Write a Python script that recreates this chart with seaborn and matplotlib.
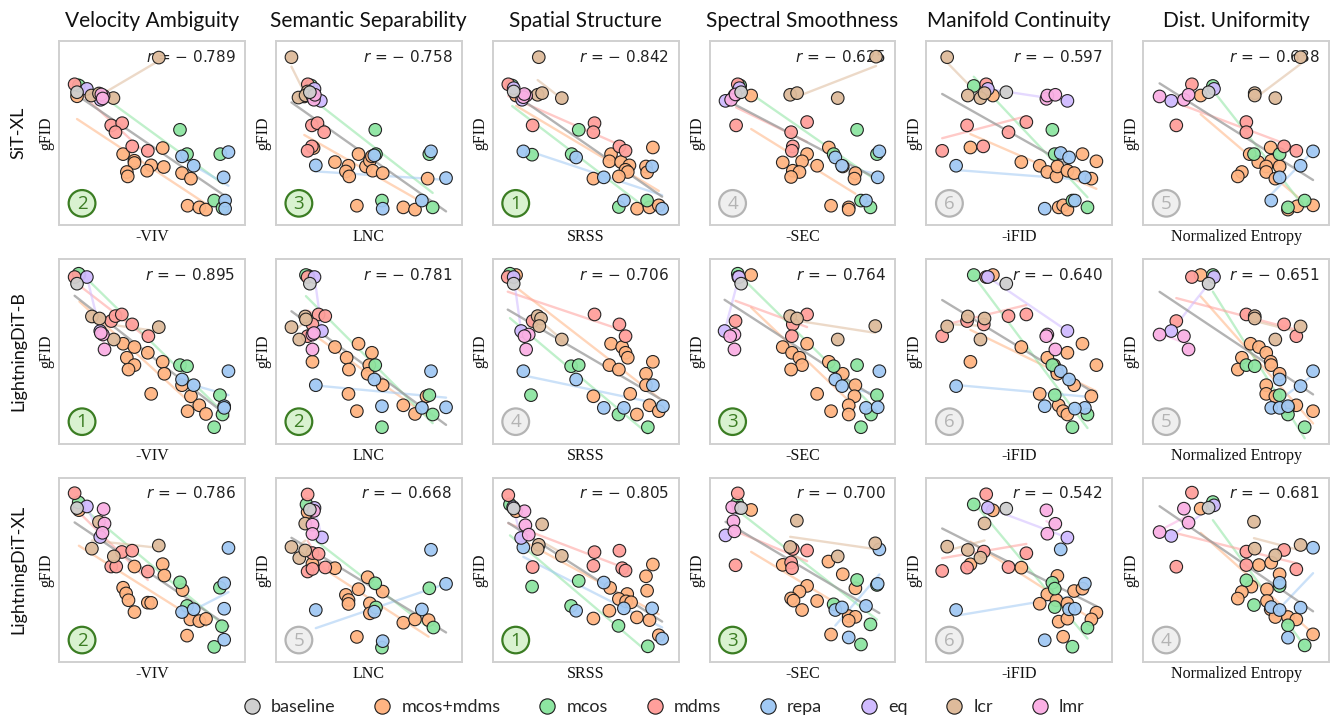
import numpy as np
import pandas as pd
import matplotlib
matplotlib.use("Agg")
import matplotlib.pyplot as plt
from matplotlib.lines import Line2D
from matplotlib.patches import Circle
import seaborn as sns

# ---------------------------------------------------------------- labels
models = ["SiT-XL", "LightningDiT-B", "LightningDiT-XL"]
metric_titles = ["Velocity Ambiguity", "Semantic Separability", "Spatial Structure",
                 "Spectral Smoothness", "Manifold Continuity", "Dist. Uniformity"]
metric_labels = ["-VIV", "LNC", "SRSS", "-SEC", "-iFID", "Normalized Entropy"]
groups = ["baseline", "mcos+mdms", "mcos", "mdms", "repa", "eq", "lcr", "lmr"]

r_values = [[-0.789, -0.758, -0.842, -0.625, -0.597, -0.638],
            [-0.895, -0.781, -0.706, -0.764, -0.640, -0.651],
            [-0.786, -0.668, -0.805, -0.700, -0.542, -0.681]]
ranks = [[2, 3, 1, 4, 6, 5],
         [1, 2, 4, 3, 6, 5],
         [2, 5, 1, 3, 6, 4]]

# ------------------------------------------- (metric score, gFID) per run
# SiT-XL
sit_viv = {
    "baseline": [(9.7, 72.2)],
    "mcos+mdms": [(9.7, 70.0), (34.5, 38.6), (55.8, 41.9), (40.6, 35.0), (40.6, 33.8), (49.6, 32.5),
                  (47.4, 29.6), (56.4, 31.6), (36.5, 28.9), (37.0, 26.5), (66.2, 28.3), (71.0, 25.3),
                  (69.2, 10.6), (75.5, 9.7), (79.1, 8.5)],
    "mcos": [(10.7, 75.8), (65.1, 51.8), (68.9, 38.6), (86.8, 38.6), (83.5, 13.4), (88.0, 9.4)],
    "mdms": [(8.4, 76.5), (28.1, 54.2), (34.0, 55.4), (30.4, 50.5), (39.4, 42.8), (47.8, 40.4)],
    "repa": [(66.2, 37.4), (72.5, 32.3), (91.2, 39.7), (88.6, 26.0), (89.4, 13.4), (89.4, 9.0)],
    "eq": [(15.0, 74.0), (22.4, 68.1)],
    "lcr": [(17.4, 70.4), (21.5, 71.5), (29.3, 69.0), (53.7, 91.0)],
    "lmr": [(24.0, 70.2), (22.8, 71.0), (23.5, 68.8)],
}
sit_lnc = {
    "baseline": [(18.3, 72.2)],
    "mcos+mdms": [(15.3, 69.9), (20.3, 41.9), (31.8, 34.3), (39.1, 32.3), (37.7, 29.2), (39.5, 26.5),
                  (44.5, 38.6), (48.5, 31.9), (50.6, 35.0), (52.1, 29.6), (57.5, 28.3), (51.7, 37.4),
                  (43.6, 10.6), (68.6, 9.7), (74.9, 8.5), (81.7, 25.3)],
    "mcos": [(19.0, 75.8), (53.5, 51.8), (53.9, 38.6), (82.6, 38.6), (57.1, 13.4), (84.4, 9.7)],
    "mdms": [(17.2, 76.5), (19.4, 54.2), (22.4, 55.4), (26.0, 50.5), (19.4, 42.8), (17.1, 40.4)],
    "repa": [(21.5, 32.5), (53.0, 37.9), (83.5, 40.1), (91.6, 25.6), (78.6, 13.4), (57.5, 9.0)],
    "eq": [(20.8, 74.0), (24.2, 67.5)],
    "lcr": [(8.4, 91.2), (12.2, 69.3), (17.1, 72.6), (16.0, 70.5)],
    "lmr": [(19.7, 69.9), (20.5, 68.1), (21.0, 70.8)],
}
sit_srss = {
    "baseline": [(11.3, 72.6)],
    "mcos+mdms": [(12.6, 70.4), (54.2, 25.3), (63.7, 38.6), (62.8, 34.7), (69.1, 34.3), (73.6, 32.5),
                  (71.5, 30.1), (72.7, 28.9), (67.9, 26.5), (82.5, 31.9), (83.1, 28.7), (86.2, 42.2),
                  (77.7, 9.0), (84.4, 9.7), (89.4, 10.8)],
    "mcos": [(10.5, 75.8), (46.3, 51.8), (42.5, 38.6), (21.2, 38.3), (67.9, 9.9), (83.1, 13.4)],
    "mdms": [(8.4, 76.5), (21.5, 54.2), (54.8, 55.4), (54.2, 50.5), (68.2, 42.8), (71.5, 40.4)],
    "repa": [(16.5, 40.1), (44.9, 36.8), (59.8, 26.0), (85.8, 31.9), (70.6, 13.4), (91.2, 9.0)],
    "eq": [(11.3, 74.4), (15.8, 68.1)],
    "lcr": [(24.8, 91.2), (24.2, 70.8), (26.6, 71.7), (37.2, 69.0)],
    "lmr": [(18.0, 70.4), (16.5, 69.5), (17.0, 71.2)],
}
sit_sec = {
    "baseline": [(17.0, 72.2)],
    "mcos+mdms": [(22.4, 70.4), (52.5, 38.6), (39.4, 34.1), (49.8, 34.7), (44.8, 29.6), (48.4, 28.9),
                  (43.9, 26.2), (57.9, 32.3), (64.2, 42.2), (71.7, 31.9), (78.5, 28.3), (78.0, 25.3),
                  (65.4, 10.6), (74.9, 9.7), (74.9, 8.5)],
    "mcos": [(16.5, 75.8), (79.4, 51.8), (66.8, 38.6), (90.1, 38.6), (81.5, 13.4), (86.6, 9.7)],
    "mdms": [(15.2, 76.5), (14.3, 54.2), (52.5, 56.0), (43.9, 50.5), (44.8, 42.8), (44.3, 40.4)],
    "repa": [(67.7, 36.8), (71.3, 32.3), (91.4, 40.1), (90.5, 26.0), (84.2, 13.4)],
    "eq": [(16.1, 74.4), (8.6, 67.5)],
    "lcr": [(89.6, 91.5), (43.4, 70.8), (47.1, 71.7), (69.0, 69.0)],
    "lmr": [(13.4, 70.4), (11.6, 68.1), (14.0, 71.0)],
}
sit_ifid = {
    "baseline": [(43.0, 72.2)],
    "mcos+mdms": [(35.8, 70.4), (23.7, 42.2), (51.1, 34.3), (61.0, 32.3), (65.1, 28.9), (70.0, 26.5),
                  (70.5, 31.9), (75.9, 29.6), (79.5, 28.3), (84.0, 38.6), (91.5, 34.7), (88.8, 25.3),
                  (71.2, 9.7), (73.6, 10.8), (75.9, 8.5)],
    "mcos": [(25.5, 75.6), (67.8, 51.8), (69.1, 38.6), (86.7, 9.7), (78.6, 13.4)],
    "mdms": [(32.2, 76.5), (21.9, 54.2), (53.8, 56.0), (44.2, 50.5), (8.5, 40.4), (30.6, 42.8)],
    "repa": [(16.0, 32.3), (72.3, 39.2), (76.8, 36.8), (85.3, 26.0), (79.9, 13.4), (63.7, 9.0)],
    "eq": [(33.1, 74.0), (75.9, 67.5)],
    "lcr": [(11.2, 91.2), (22.3, 70.4), (29.1, 69.0), (31.3, 71.7)],
    "lmr": [(64.6, 68.6), (65.1, 70.4), (69.4, 70.8)],
}
sit_ent = {
    "baseline": [(35.2, 72.2)],
    "mcos+mdms": [(30.9, 70.4), (68.6, 42.2), (57.3, 38.6), (61.9, 34.3), (68.9, 35.0), (66.2, 31.9),
                  (73.4, 31.9), (66.2, 28.9), (53.1, 28.9), (50.9, 26.5), (71.1, 25.3), (77.9, 8.5),
                  (82.9, 10.3), (91.4, 10.8)],
    "mcos": [(37.5, 75.6), (59.6, 38.6), (73.4, 38.6), (86.9, 13.4), (77.9, 9.7)],
    "mdms": [(26.2, 76.5), (17.8, 54.2), (55.5, 56.0), (55.5, 50.5), (75.8, 42.8), (82.4, 40.4)],
    "repa": [(73.4, 26.0), (91.4, 40.1), (84.7, 32.3), (68.9, 13.4)],
    "eq": [(38.1, 74.0), (15.1, 67.5)],
    "lcr": [(84.7, 91.2), (60.0, 71.7), (60.0, 70.4), (71.1, 69.0)],
    "lmr": [(8.8, 69.9), (21.9, 68.1), (24.4, 70.8)],
}

# LightningDiT-B
ldb_viv = {
    "baseline": [(9.7, 86.8)],
    "mcos+mdms": [(11.0, 91.5), (34.5, 54.2), (40.6, 52.4), (47.8, 49.3), (36.5, 46.6), (40.6, 42.6),
                  (37.4, 40.2), (55.8, 44.4), (56.7, 37.9), (49.6, 27.0), (66.2, 31.7), (71.0, 25.7),
                  (75.5, 20.8), (79.1, 16.1), (69.2, 17.6)],
    "mcos": [(10.6, 92.2), (65.1, 42.6), (68.9, 42.0), (86.6, 26.3), (88.0, 15.8), (83.5, 8.9)],
    "mdms": [(8.4, 90.4), (28.1, 66.5), (30.4, 69.2), (33.8, 70.1), (39.4, 64.7), (48.1, 58.3)],
    "repa": [(66.2, 34.8), (72.5, 31.7), (91.2, 39.3), (88.9, 20.3), (88.9, 19.4)],
    "eq": [(15.0, 90.4), (22.2, 61.1)],
    "lcr": [(17.7, 69.0), (21.8, 67.9), (53.7, 63.2), (29.5, 56.5)],
    "lmr": [(23.6, 59.2), (24.5, 51.1), (22.5, 60.0)],
}
ldb_lnc = {
    "baseline": [(18.3, 86.8)],
    "mcos+mdms": [(17.5, 91.0), (19.7, 44.4), (31.8, 52.4), (44.5, 54.2), (38.1, 46.6), (39.3, 40.2),
                  (51.7, 49.3), (50.3, 42.6), (49.4, 37.9), (57.5, 31.7), (39.1, 27.0), (43.6, 17.6),
                  (68.6, 20.8), (74.9, 16.1), (81.1, 25.7)],
    "mcos": [(16.2, 91.5), (53.5, 42.6), (82.6, 26.3), (84.4, 15.8), (57.1, 8.9)],
    "mdms": [(17.1, 90.4), (23.0, 70.1), (26.6, 69.2), (19.7, 64.7), (17.1, 58.3)],
    "repa": [(53.0, 34.8), (21.5, 31.7), (83.5, 39.3), (57.1, 20.3), (78.6, 19.4), (91.6, 19.7)],
    "eq": [(20.8, 90.4), (24.8, 61.1)],
    "lcr": [(15.8, 69.0), (16.2, 67.4), (8.4, 63.2), (12.6, 56.5)],
    "lmr": [(19.7, 59.2), (19.7, 51.1), (20.5, 60.0)],
}
ldb_srss = {
    "baseline": [(11.3, 86.8)],
    "mcos+mdms": [(12.6, 91.5), (63.7, 54.2), (69.7, 52.4), (71.5, 49.3), (72.7, 46.6), (62.8, 42.6),
                  (67.9, 40.2), (86.2, 44.4), (82.5, 37.9), (82.5, 31.7), (74.0, 27.0), (54.2, 25.7),
                  (84.4, 20.8), (89.4, 17.6), (77.6, 15.8)],
    "mcos": [(9.3, 92.2), (42.2, 42.0), (46.3, 42.6), (20.6, 26.3), (67.7, 15.8), (83.5, 8.9)],
    "mdms": [(8.1, 90.4), (21.5, 66.5), (54.8, 70.1), (68.2, 64.7), (71.5, 58.3)],
    "repa": [(16.5, 39.3), (44.9, 34.8), (86.2, 31.7), (59.8, 19.4), (70.6, 19.4), (91.6, 20.3)],
    "eq": [(11.3, 90.4), (15.3, 61.1)],
    "lcr": [(24.2, 69.2), (26.0, 67.9), (25.1, 63.8), (37.2, 56.5)],
    "lmr": [(19.4, 59.2), (17.1, 58.3), (18.0, 51.1)],
}
ldb_sec = {
    "baseline": [(17.0, 86.8)],
    "mcos+mdms": [(22.4, 91.5), (52.5, 54.2), (39.4, 52.4), (44.4, 49.3), (48.4, 46.6), (49.8, 42.6),
                  (43.9, 40.2), (64.2, 44.4), (71.7, 37.9), (78.5, 31.7), (57.9, 27.0), (78.0, 25.7),
                  (74.9, 20.8), (74.9, 15.8), (65.4, 17.6)],
    "mcos": [(15.2, 92.2), (66.8, 42.0), (79.4, 42.6), (90.1, 26.3), (86.9, 15.8), (81.5, 8.9)],
    "mdms": [(15.5, 90.4), (14.0, 66.5), (52.5, 70.1), (44.8, 64.7), (44.3, 58.3)],
    "repa": [(67.7, 34.8), (71.3, 31.2), (91.4, 39.3), (84.2, 19.4), (90.5, 19.7)],
    "eq": [(15.8, 90.4), (8.1, 61.1)],
    "lcr": [(43.4, 69.2), (47.1, 67.9), (89.2, 63.8), (69.0, 56.5)],
    "lmr": [(13.4, 59.2), (11.1, 58.3), (13.4, 51.1)],
}
ldb_ifid = {
    "baseline": [(43.0, 86.8)],
    "mcos+mdms": [(35.8, 91.5), (23.7, 44.4), (51.1, 52.4), (75.9, 49.3), (84.0, 54.2), (91.5, 42.6),
                  (65.1, 46.6), (68.7, 42.6), (70.0, 40.2), (70.5, 37.9), (79.5, 31.7), (61.0, 27.0),
                  (88.8, 25.7), (71.2, 20.8), (73.6, 17.6), (75.9, 15.8)],
    "mcos": [(25.5, 91.5), (67.8, 42.6), (69.1, 26.3), (86.7, 15.8), (78.6, 8.9)],
    "mdms": [(32.2, 90.4), (21.9, 66.5), (8.5, 58.3), (30.9, 64.7), (44.2, 69.2), (53.8, 70.1)],
    "repa": [(16.0, 31.2), (72.3, 39.3), (76.8, 34.8), (85.3, 19.4), (79.9, 19.0), (63.7, 20.3)],
    "eq": [(33.1, 90.4), (75.9, 61.1)],
    "lcr": [(22.3, 69.0), (11.2, 63.6), (31.3, 67.9), (29.1, 56.5)],
    "lmr": [(65.1, 59.2), (64.5, 58.3), (69.4, 51.1)],
}
ldb_ent = {
    "baseline": [(35.2, 86.8)],
    "mcos+mdms": [(30.9, 91.5), (57.8, 54.2), (62.3, 52.4), (66.2, 49.3), (68.6, 44.4), (68.9, 42.6),
                  (53.1, 46.6), (50.9, 40.2), (73.4, 37.9), (66.2, 31.7), (66.2, 27.0), (71.1, 25.7),
                  (82.4, 20.8), (91.4, 17.6), (77.9, 19.4)],
    "mcos": [(37.5, 91.5), (55.5, 42.6), (60.0, 42.0), (73.4, 26.3), (77.9, 15.8), (86.9, 8.9)],
    "mdms": [(26.2, 90.4), (17.8, 66.5), (55.5, 70.1), (75.8, 64.7), (82.4, 58.3)],
    "repa": [(91.4, 39.3), (84.7, 31.2), (73.4, 34.8), (68.9, 19.4), (73.4, 19.4), (77.9, 20.3)],
    "eq": [(38.1, 90.4), (15.1, 61.1)],
    "lcr": [(60.0, 69.2), (60.0, 67.9), (84.7, 63.6), (71.1, 56.5)],
    "lmr": [(8.8, 59.2), (21.9, 58.3), (24.4, 51.1)],
}

# LightningDiT-XL
ldxl_viv = {
    "baseline": [(9.7, 83.5)],
    "mcos+mdms": [(10.7, 82.4), (40.6, 51.8), (55.8, 53.1), (56.7, 46.9), (34.5, 40.3), (36.1, 37.2),
                  (37.4, 33.5), (40.6, 27.1), (47.8, 32.2), (49.6, 32.1), (66.5, 39.0), (70.7, 23.1),
                  (75.5, 22.2), (79.1, 23.4), (68.9, 14.3)],
    "mcos": [(10.6, 86.6), (65.1, 43.2), (68.9, 30.4), (86.6, 40.3), (87.7, 19.4), (83.5, 8.2)],
    "mdms": [(8.4, 91.6), (33.8, 59.7), (39.4, 60.4), (28.1, 51.8), (30.8, 51.8), (47.8, 49.1)],
    "repa": [(66.2, 27.1), (72.5, 28.6), (91.2, 61.9), (88.9, 42.7), (88.9, 28.9), (88.9, 12.1)],
    "eq": [(15.0, 84.4), (22.2, 67.8)],
    "lcr": [(21.5, 76.0), (17.7, 61.5), (29.5, 57.3), (53.7, 63.2)],
    "lmr": [(24.0, 83.0), (24.5, 75.1), (23.4, 70.1)],
}
ldxl_lnc = {
    "baseline": [(18.3, 82.7)],
    "mcos+mdms": [(17.1, 81.3), (19.7, 53.3), (31.8, 50.9), (44.5, 39.5), (49.4, 46.0), (57.5, 38.2),
                  (37.7, 36.4), (39.1, 33.6), (39.1, 31.5), (50.6, 31.8), (50.6, 26.4), (68.6, 21.3),
                  (74.9, 23.1), (82.2, 22.7), (43.6, 13.6)],
    "mcos": [(16.5, 85.5), (53.5, 42.7), (53.9, 29.6), (82.6, 40.0), (84.8, 18.7), (57.1, 7.8)],
    "mdms": [(17.1, 90.9), (19.7, 59.1), (23.0, 58.7), (26.6, 51.3), (17.1, 49.1), (19.7, 50.5)],
    "repa": [(53.0, 27.3), (21.5, 28.2), (83.5, 60.9), (91.6, 42.4), (78.6, 28.5), (57.5, 11.3)],
    "eq": [(20.8, 83.6), (24.8, 67.6)],
    "lcr": [(15.8, 75.1), (8.4, 62.4), (12.6, 56.4), (15.8, 60.5)],
    "lmr": [(19.7, 74.5), (19.7, 69.5), (20.5, 82.0)],
}
ldxl_srss = {
    "baseline": [(11.3, 83.3)],
    "mcos+mdms": [(12.6, 81.8), (86.2, 52.9), (82.5, 46.5), (83.1, 38.7), (63.2, 40.2), (72.4, 36.9),
                  (67.9, 34.2), (71.8, 32.9), (74.5, 32.4), (62.8, 27.8), (54.2, 23.6), (77.6, 24.2),
                  (84.4, 22.7), (89.4, 14.5)],
    "mcos": [(9.3, 85.5), (21.2, 40.9), (46.3, 44.0), (42.2, 30.4), (67.7, 19.6), (83.5, 8.5)],
    "mdms": [(8.4, 90.5), (21.5, 51.5), (54.8, 59.6), (54.2, 52.2), (68.2, 60.4), (69.7, 50.9), (71.5, 49.6)],
    "repa": [(16.5, 62.2), (44.9, 27.8), (59.8, 43.1), (70.6, 29.1), (85.8, 29.1), (91.2, 12.7)],
    "eq": [(11.0, 84.0), (15.3, 67.3)],
    "lcr": [(26.6, 74.7), (24.8, 63.6), (24.2, 61.3), (37.2, 57.6)],
    "lmr": [(17.1, 81.8), (17.6, 74.2), (19.4, 69.1)],
}
ldxl_sec = {
    "baseline": [(17.0, 83.5)],
    "mcos+mdms": [(22.4, 82.5), (39.4, 52.7), (64.0, 54.5), (71.7, 47.6), (52.5, 41.3), (48.4, 38.2),
                  (43.9, 34.5), (45.2, 33.3), (49.8, 28.2), (57.9, 33.1), (78.5, 40.0), (74.9, 24.9),
                  (78.5, 24.5), (74.9, 22.4), (65.4, 14.9)],
    "mcos": [(14.9, 86.2), (66.8, 31.3), (79.4, 44.5), (90.1, 41.8), (86.6, 20.4), (81.5, 9.5)],
    "mdms": [(15.2, 91.5), (44.8, 61.3), (52.5, 60.5), (43.9, 54.0), (44.4, 50.9), (14.0, 52.5)],
    "repa": [(67.7, 28.2), (71.3, 29.6), (91.4, 61.1), (90.5, 42.4), (84.2, 30.4), (74.9, 13.3)],
    "eq": [(15.8, 83.8), (8.6, 68.7)],
    "lcr": [(47.0, 76.7), (43.4, 62.4), (69.0, 57.3), (89.2, 64.4)],
    "lmr": [(12.2, 84.0), (12.9, 76.4), (13.4, 70.9)],
}
ldxl_ifid = {
    "baseline": [(43.0, 83.2)],
    "mcos+mdms": [(35.8, 82.3), (23.7, 53.0), (51.1, 51.2), (70.5, 46.7), (65.1, 36.7), (70.0, 33.5),
                  (61.0, 31.6), (75.9, 31.8), (79.5, 38.5), (84.0, 39.8), (91.5, 26.8), (88.8, 23.1),
                  (71.2, 21.9), (75.9, 23.5), (73.6, 13.7)],
    "mcos": [(25.5, 85.5), (67.8, 43.0), (69.1, 39.8), (69.1, 29.8), (86.7, 18.6), (78.6, 8.3)],
    "mdms": [(32.2, 91.0), (30.9, 59.9), (21.9, 51.2), (8.5, 49.4), (44.2, 51.5), (53.8, 59.0)],
    "repa": [(16.0, 28.2), (72.3, 61.1), (85.3, 42.5), (76.8, 28.6), (79.9, 28.9), (63.7, 11.8)],
    "eq": [(33.1, 83.7), (75.9, 67.5)],
    "lcr": [(31.3, 75.2), (11.2, 62.6), (22.3, 60.8), (29.1, 56.6)],
    "lmr": [(64.6, 82.3), (69.4, 75.0), (65.1, 69.6)],
}
ldxl_ent = {
    "baseline": [(35.2, 83.7)],
    "mcos+mdms": [(30.9, 83.2), (62.3, 52.6), (68.9, 53.9), (73.4, 47.6), (58.2, 40.9), (53.1, 38.0),
                  (50.9, 34.4), (66.6, 39.4), (66.6, 33.1), (68.6, 28.6), (71.1, 24.4), (77.9, 24.4),
                  (82.4, 23.1), (91.4, 15.0)],
    "mcos": [(37.5, 86.8), (55.5, 44.3), (73.4, 41.2), (59.6, 30.9), (77.9, 19.9), (86.9, 9.0)],
    "mdms": [(26.2, 91.9), (17.8, 51.7), (55.5, 59.9), (55.5, 52.6), (75.8, 60.8), (82.4, 50.3)],
    "repa": [(91.4, 62.0), (73.4, 43.0), (84.7, 29.5), (68.9, 29.8), (73.4, 28.2), (77.9, 13.2)],
    "eq": [(38.1, 85.0), (15.1, 68.4)],
    "lcr": [(59.6, 76.1), (60.0, 61.5), (71.1, 57.9), (84.7, 63.5)],
    "lmr": [(21.9, 83.2), (24.4, 75.6), (8.8, 70.5)],
}

panels = [[sit_viv, sit_lnc, sit_srss, sit_sec, sit_ifid, sit_ent],
          [ldb_viv, ldb_lnc, ldb_srss, ldb_sec, ldb_ifid, ldb_ent],
          [ldxl_viv, ldxl_lnc, ldxl_srss, ldxl_sec, ldxl_ifid, ldxl_ent]]

# ---------------------------------------------------------------- style
sns.set_theme(style="white")
pastel = sns.color_palette("pastel")
palette = {"baseline": pastel[7], "mcos+mdms": pastel[1], "mcos": pastel[2], "mdms": pastel[3],
           "repa": pastel[0], "eq": pastel[4], "lcr": pastel[5], "lmr": pastel[6]}
# baseline is drawn last so it sits on top of the cluster
draw_order = ["mcos+mdms", "mcos", "mdms", "repa", "eq", "lcr", "lmr", "baseline"]

SANS = ["Lato", "DejaVu Sans"]
SERIF = ["Liberation Serif", "DejaVu Serif"]

fig, axes = plt.subplots(3, 6, figsize=(13.38, 7.19), dpi=100)
fig.subplots_adjust(left=0.0441, right=0.9933, top=0.943, bottom=0.0793,
                    wspace=0.167, hspace=0.185)


def to_frame(panel):
    rows = []
    for g in draw_order:
        for x, y in panel[g]:
            rows.append({"score": x, "gFID": y, "group": g})
    return pd.DataFrame(rows)


for i in range(3):
    for j in range(6):
        ax = axes[i, j]
        df = to_frame(panels[i][j])

        # per-method trend lines
        for g in groups:
            sub = df[df["group"] == g]
            if len(sub) >= 2 and sub["score"].nunique() > 1:
                sns.regplot(data=sub, x="score", y="gFID", scatter=False, ci=None,
                            truncate=True, color=palette[g], ax=ax,
                            line_kws=dict(lw=1.7, alpha=0.55, zorder=1))
        # overall trend
        sns.regplot(data=df, x="score", y="gFID", scatter=False, ci=None, truncate=True,
                    color="#9a9a9a", ax=ax, line_kws=dict(lw=1.7, alpha=0.75, zorder=1.5))

        sns.scatterplot(data=df, x="score", y="gFID", hue="group", palette=palette,
                        s=82, edgecolor="#1a1a1a", linewidth=0.8, alpha=0.95,
                        legend=False, ax=ax, zorder=3)

        ax.set_xlim(0, 100)
        ax.set_ylim(0, 100)
        ax.set_xticks([])
        ax.set_yticks([])
        for sp in ax.spines.values():
            sp.set_color("#d0d0d0")
            sp.set_linewidth(1.4)
            sp.set_visible(True)

        ax.set_xlabel(metric_labels[j], family=SERIF, fontsize=11.5, labelpad=3, color="#111111")
        ax.set_ylabel("gFID", family=SERIF, fontsize=11.5, labelpad=3, color="#111111")
        if i == 0:
            ax.set_title(metric_titles[j], family=SANS, fontsize=15, pad=10, color="#111111")

        rv = abs(r_values[i][j])
        ax.text(0.95, 0.915, "$r$ = \u2212 " + f"{rv:.3f}", transform=ax.transAxes,
                ha="right", va="center", fontsize=11, family="DejaVu Sans",
                color="#222222", zorder=2)

        rk = ranks[i][j]
        good = rk <= 3
        face = "#d9f2d0" if good else "#efefef"
        edge = "#3b7d23" if good else "#b4b4b4"
        ax.add_patch(Circle((0.124, 0.119), 0.072, transform=ax.transAxes,
                            facecolor=face, edgecolor=edge, lw=1.6, zorder=4))
        ax.text(0.124, 0.115, str(rk), transform=ax.transAxes, ha="center", va="center",
                fontsize=13.5, family=["Open Sans", "DejaVu Sans"], color=edge, zorder=5)

# model names on the left
for i, name in enumerate(models):
    pos = axes[i, 0].get_position()
    fig.text(0.0135, (pos.y0 + pos.y1) / 2, name, rotation=90, ha="center", va="center",
             fontsize=13, family=SANS, color="#111111")

handles = [Line2D([0], [0], marker="o", linestyle="", markersize=11,
                  markerfacecolor=palette[g], markeredgecolor="#1a1a1a", markeredgewidth=0.8)
           for g in groups]
fig.legend(handles, groups, loc="center", bbox_to_anchor=(0.496, 0.0167), ncol=8,
           frameon=False, prop={"family": SANS, "size": 13}, handlelength=1.0,
           handletextpad=0.55, columnspacing=2.1)

fig.savefig("out.png", dpi=100)
